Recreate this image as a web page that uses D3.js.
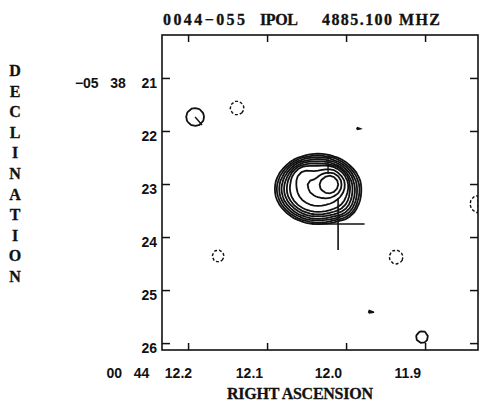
<!DOCTYPE html>
<html>
<head>
<meta charset="UTF-8">
<title>0044-055 IPOL 4885.100 MHZ</title>
<script src="https://cdn.jsdelivr.net/npm/d3@7"></script>
<style>
  body { margin: 0; background: #fff; }
  .lbl { font-family: "Liberation Sans", Arial, sans-serif; font-weight: bold; font-size: 14px; white-space: pre; fill: #111; }
  .ttl { font-family: "Liberation Serif", "Times New Roman", serif; font-weight: bold; font-size: 16px; fill: #111; stroke: #111; stroke-width: 0.3; }
  .axis line { stroke: #111; stroke-width: 1.5; }
</style>
</head>
<body>
<script>
// tick values / labels
const raTicks = [12.2, 12.1, 12.0, 11.9];
const raTickLabels = ["00   44    12.2", "12.1", "12.0", "11.9"];
const decTicks = [21, 22, 23, 24, 25, 26];
const decTickLabels = ["\u221205   38    21", "22", "23", "24", "25", "26"];

const titleParts = ["0044\u2212055", "IPOL", "4885.100 MHZ"];
const yTitle = "DECLINATION";
const xTitle = "RIGHT ASCENSION";

// map extent: RA seconds past 00h44m, Dec arcsec past -05d38'
const raExtent = [12.233, 11.833];
const decExtent = [20.19, 26.13];

// emission components (RA s, Dec ", widths in s and ", peak in units of lowest contour)
const compRA   = [12.0203, 12.0354, 12.0532, 12.0038, 12.1911, 12.138, 11.9835, 12.162, 11.9367, 11.9684, 11.9038, 11.8316];
const compDec  = [23.0,    23.094,  22.868,  23.415,  21.736,  21.566, 21.943,  24.358, 24.377,  25.396,  25.887,  23.377];
const compSRA  = [0.0076,  0.0203,  0.0076,  0.0101,  0.0157,  0.0091, 0.0038,  0.0078, 0.0091,  0.0044,  0.0105,  0.0118];
const compSDec = [0.113,   0.245,   0.113,   0.151,   0.234,   0.136,  0.057,   0.117,  0.136,   0.066,   0.157,   0.175];
const compPeak = [120,     37,      10,      1.5,     1.3,     -1.6,   1.3,     -1.6,   -1.6,    1.3,     1.3,     -1.6];

// contour levels
const posLevels = [1, 1.4, 2, 2.8, 4, 5.6, 8, 16, 32, 64];
const negLevels = [-1];

// position cross
const crossRA = 12.0101, crossDec = 23.755, crossArmRA = 0.0335, crossArmDec = 0.49;
// short line features
const segRA0 = [12.1911, 12.0228], segDec0 = [21.736, 22.434];
const segRA1 = [12.1823, 12.0228], segDec1 = [21.887, 22.811];

const W = 480, H = 406;
const mLeft = 162, mRight = 478, mTop = 35, mBottom = 350;

const x = d3.scaleLinear().domain(raExtent).range([mLeft, mRight]);
const y = d3.scaleLinear().domain(decExtent).range([mTop, mBottom]);

const svg = d3.select("body").append("svg")
  .attr("width", W).attr("height", H);

svg.append("defs").append("clipPath").attr("id", "clip")
  .append("rect").attr("x", mLeft).attr("y", mTop)
  .attr("width", mRight - mLeft).attr("height", mBottom - mTop);

// field on a coarse grid, like the map pixels
const nx = 80, ny = 79;
const dRA = (raExtent[1] - raExtent[0]) / nx;
const dDec = (decExtent[1] - decExtent[0]) / ny;
const field = new Float64Array(nx * ny);
for (let j = 0; j < ny; j++) {
  const dec = decExtent[0] + (j + 0.5) * dDec;
  for (let i = 0; i < nx; i++) {
    const ra = raExtent[0] + (i + 0.5) * dRA;
    let v = 0;
    for (let k = 0; k < compRA.length; k++) {
      const u = (ra - compRA[k]) / compSRA[k], w = (dec - compDec[k]) / compSDec[k];
      v += compPeak[k] * Math.exp(-0.5 * (u * u + w * w));
    }
    field[j * nx + i] = v;
  }
}

const toScreen = d3.geoTransform({
  point: function (gx, gy) {
    this.stream.point(x(raExtent[0] + gx * dRA), y(decExtent[0] + gy * dDec));
  }
});
const path = d3.geoPath(toScreen);

const cg = svg.append("g").attr("clip-path", "url(#clip)");

const pos = d3.contours().size([nx, ny]).thresholds(posLevels)(field);
cg.selectAll("path.pos").data(pos).enter().append("path")
  .attr("class", "pos")
  .attr("d", path)
  .attr("fill", "none").attr("stroke", "#111").attr("stroke-width", 1.8);

const neg = d3.contours().size([nx, ny]).thresholds(negLevels.map(Math.abs))(field.map(v => -v));
cg.selectAll("path.neg").data(neg).enter().append("path")
  .attr("class", "neg")
  .attr("d", path)
  .attr("fill", "none").attr("stroke", "#111").attr("stroke-width", 1.4)
  .attr("stroke-dasharray", "3,2");

cg.selectAll("line.seg").data(segRA0).enter().append("line")
  .attr("class", "seg")
  .attr("x1", (d, i) => x(segRA0[i])).attr("y1", (d, i) => y(segDec0[i]))
  .attr("x2", (d, i) => x(segRA1[i])).attr("y2", (d, i) => y(segDec1[i]))
  .attr("stroke", "#111").attr("stroke-width", 1.4);

// cross
cg.append("line")
  .attr("x1", x(crossRA + crossArmRA)).attr("x2", x(crossRA - crossArmRA))
  .attr("y1", y(crossDec)).attr("y2", y(crossDec))
  .attr("stroke", "#111").attr("stroke-width", 1.6);
cg.append("line")
  .attr("x1", x(crossRA)).attr("x2", x(crossRA))
  .attr("y1", y(crossDec - crossArmDec)).attr("y2", y(crossDec + crossArmDec))
  .attr("stroke", "#111").attr("stroke-width", 1.6);

// frame and inward ticks on all sides
svg.append("rect")
  .attr("x", mLeft).attr("y", mTop)
  .attr("width", mRight - mLeft).attr("height", mBottom - mTop)
  .attr("fill", "none").attr("stroke", "#111").attr("stroke-width", 1.6);

function noDomain(g) { g.select(".domain").remove(); }
svg.append("g").attr("class", "axis").attr("transform", `translate(0,${mTop})`)
  .call(d3.axisTop(x).tickValues(raTicks).tickSize(-7).tickFormat("")).call(noDomain);
svg.append("g").attr("class", "axis").attr("transform", `translate(0,${mBottom})`)
  .call(d3.axisBottom(x).tickValues(raTicks).tickSize(-7).tickFormat("")).call(noDomain);
svg.append("g").attr("class", "axis").attr("transform", `translate(${mLeft},0)`)
  .call(d3.axisLeft(y).tickValues(decTicks).tickSize(-8).tickFormat("")).call(noDomain);
svg.append("g").attr("class", "axis").attr("transform", `translate(${mRight},0)`)
  .call(d3.axisRight(y).tickValues(decTicks).tickSize(-8).tickFormat("")).call(noDomain);

// tick labels
svg.selectAll("text.xl").data(raTicks).enter().append("text")
  .attr("class", "lbl xl")
  .attr("x", (d, i) => x(d) + (i === 0 ? 4 : -4))
  .attr("y", 378)
  .attr("text-anchor", "end")
  .text((d, i) => raTickLabels[i]);

svg.selectAll("text.yl").data(decTicks).enter().append("text")
  .attr("class", "lbl yl")
  .attr("x", mLeft - 5)
  .attr("y", d => y(d) + 10)
  .attr("text-anchor", "end")
  .text((d, i) => decTickLabels[i]);

// titles
const titleX = [163, 260, 322], titleW = [82, 38, 118];
svg.selectAll("text.tt").data(titleParts).enter().append("text")
  .attr("class", "ttl tt")
  .attr("x", (d, i) => titleX[i]).attr("y", 25)
  .attr("textLength", (d, i) => titleW[i]).attr("lengthAdjust", "spacing")
  .text(d => d);

svg.append("text").attr("class", "ttl")
  .attr("x", 227).attr("y", 399)
  .attr("textLength", 146).attr("lengthAdjust", "spacing")
  .text(xTitle);

svg.selectAll("text.yt").data(yTitle.split("")).enter().append("text")
  .attr("class", "ttl yt")
  .attr("x", 15).attr("y", (d, i) => 76 + i * 20.6)
  .attr("text-anchor", "middle")
  .text(d => d);
</script>
</body>
</html>
